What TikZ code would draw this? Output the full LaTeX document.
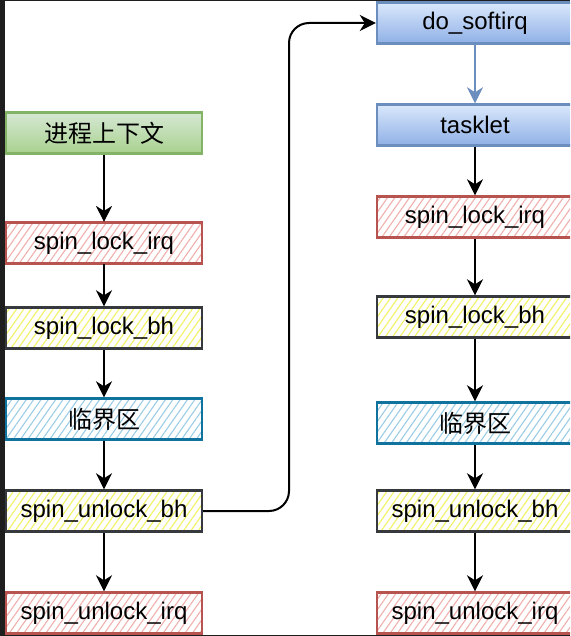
\documentclass[tikz,border=0pt]{standalone}
\usepackage{fontspec}
\setmainfont{Liberation Sans}
\newfontfamily\cjk{Noto Sans CJK SC}
\usetikzlibrary{arrows.meta,patterns.meta}
\definecolor{frameC}{HTML}{1E1E1E}
\definecolor{redS}{HTML}{B85450}
\definecolor{redF}{HTML}{EFB0AE}
\definecolor{yelS}{HTML}{36393D}
\definecolor{yelF}{HTML}{F2F266}
\definecolor{bluS}{HTML}{10739E}
\definecolor{bluF}{HTML}{9CCDE6}
\definecolor{grnS}{HTML}{82B366}
\definecolor{grnT}{HTML}{D5E8D4}
\definecolor{grnB}{HTML}{A9D18E}
\definecolor{sftS}{HTML}{6C8EBF}
\definecolor{sftT}{HTML}{DAE8FC}
\definecolor{sftB}{HTML}{8FB0E6}
\tikzset{
  box/.style={line width=1.2pt, minimum width=98pt, minimum height=20.5pt, inner sep=0pt, align=center},
  hatch/.style={pattern={Lines[angle=55,distance=3pt,line width=0.55pt]}, pattern color=#1},
  redbox/.style={box, draw=redS, hatch=redF},
  yelbox/.style={box, draw=yelS, hatch=yelF},
  blubox/.style={box, draw=bluS, hatch=bluF},
  grnbox/.style={box, draw=grnS, top color=grnT, bottom color=grnB},
  sftbox/.style={box, draw=sftS, top color=sftT, bottom color=sftB},
  conn/.style={line width=1pt, -{Stealth[length=8pt,width=8pt,inset=2.5pt]}},
}
\begin{document}
\begin{tikzpicture}[x=0.5pt,y=-0.5pt,font=\fontsize{12}{14}\selectfont]
\useasboundingbox (0,0) rectangle (570,636);
\fill[white] (0,0) rectangle (570,636);
\begin{scope}
\clip (0,0) rectangle (570,636);
% left column
\node[grnbox] (L0) at (104,133) {\cjk 进程上下文};
\node[redbox] (L1) at (104,243) {spin\_lock\_irq};
\node[yelbox] (L2) at (104,328) {spin\_lock\_bh};
\node[blubox] (L3) at (104,419) {\cjk 临界区};
\node[yelbox] (L4) at (104,511) {spin\_unlock\_bh};
\node[redbox] (L5) at (104,613) {spin\_unlock\_irq};
% right column
\node[sftbox] (R0) at (475,23) {do\_softirq};
\node[sftbox] (R1) at (475,125) {tasklet};
\node[redbox] (R2) at (475,217) {spin\_lock\_irq};
\node[yelbox] (R3) at (475,317) {spin\_lock\_bh};
\node[blubox] (R4) at (475,423) {\cjk 临界区};
\node[yelbox] (R5) at (475,511) {spin\_unlock\_bh};
\node[redbox] (R6) at (475,613) {spin\_unlock\_irq};
% connectors
\draw[conn] (L0) -- (L1);
\draw[conn] (L1) -- (L2);
\draw[conn] (L2) -- (L3);
\draw[conn] (L3) -- (L4);
\draw[conn] (L4) -- (L5);
\draw[conn, draw=sftS, fill=sftS] (R0) -- (R1);
\draw[conn] (R1) -- (R2);
\draw[conn] (R2) -- (R3);
\draw[conn] (R3) -- (R4);
\draw[conn] (R4) -- (R5);
\draw[conn] (R5) -- (R6);
\draw[conn, rounded corners=10pt] (L4.east) -| (289,23) -- (R0.west);
\end{scope}
% screenshot frame
\fill[frameC] (0,0) rectangle (5,636);
\fill[frameC] (5,0) rectangle (570,1.5);
\fill[frameC] (5,634.6) rectangle (570,636);
\end{tikzpicture}
\end{document}
